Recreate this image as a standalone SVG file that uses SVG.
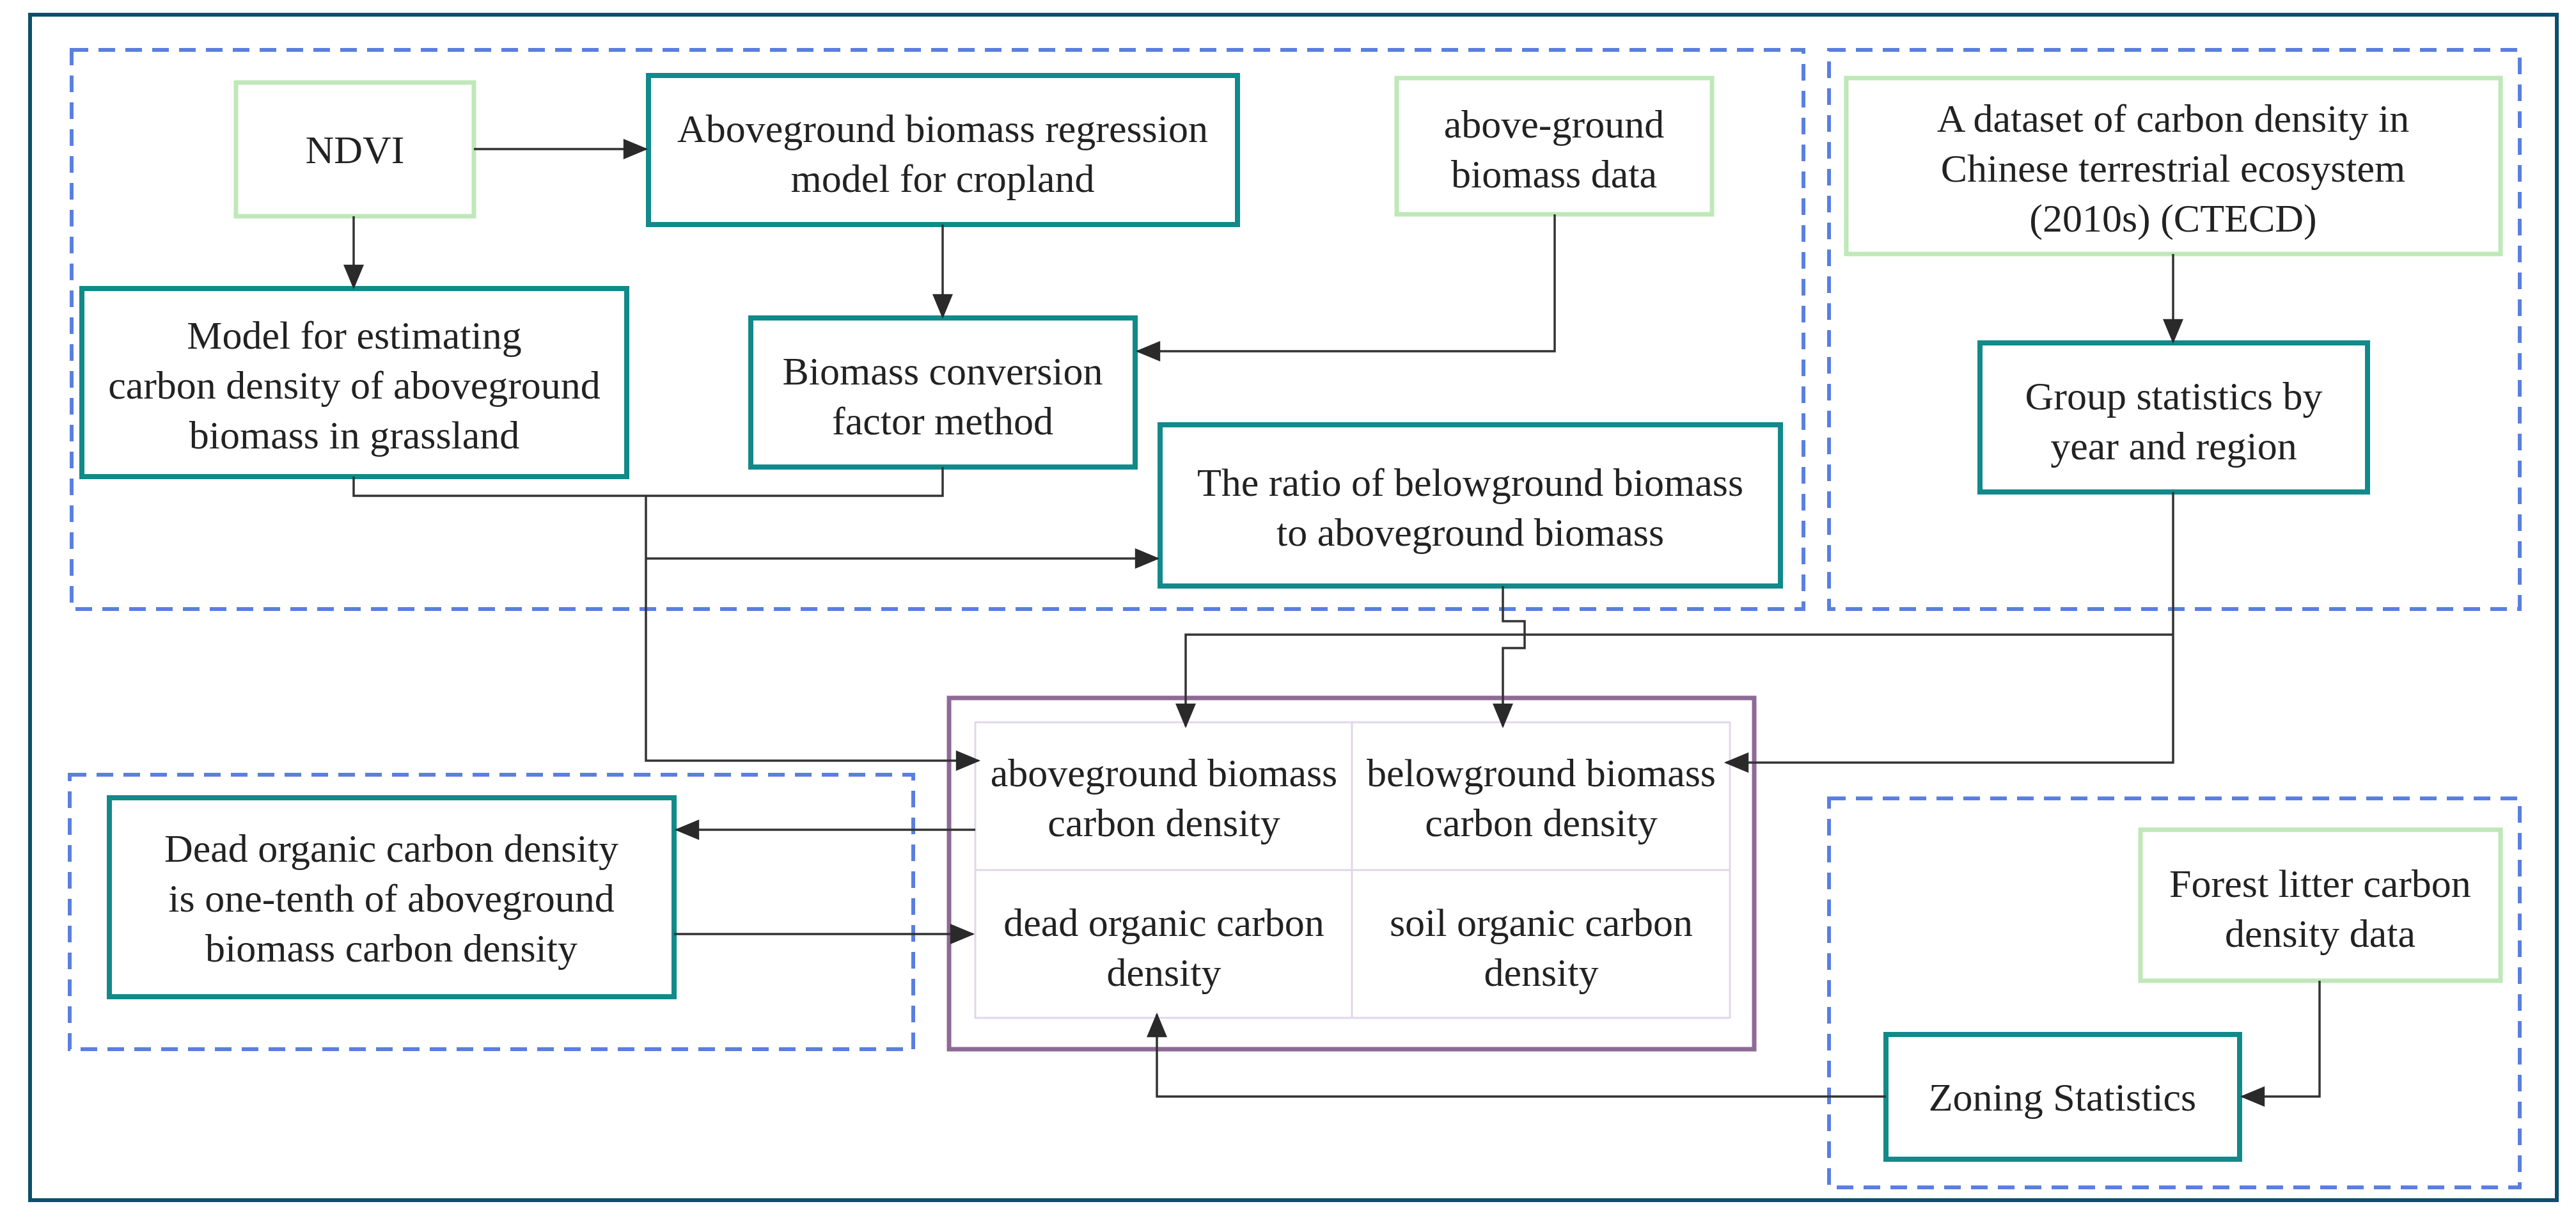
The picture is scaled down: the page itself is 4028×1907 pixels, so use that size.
<svg xmlns="http://www.w3.org/2000/svg" width="4028" height="1907" viewBox="0 0 4028 1907">
<style>
text{font-family:"Liberation Serif","Times New Roman",serif;font-size:62px;fill:#222;text-anchor:middle}
.t{fill:#fff;stroke:#12898a;stroke-width:8}
.g{fill:#fff;stroke:#bfe8b8;stroke-width:7}
.d{fill:none;stroke:#5a7fe0;stroke-width:6;stroke-dasharray:26 16}
.c{fill:none;stroke:#333;stroke-width:3.5}
</style>
<defs>
<marker id="b" viewBox="0 0 12 10" refX="11" refY="5" markerWidth="40" markerHeight="32" orient="auto" markerUnits="userSpaceOnUse"><path d="M0,0L12,5L0,10z" fill="#2a2a2a"/></marker></defs>
<rect width="4028" height="1907" fill="#fff"/>
<rect x="47" y="23" width="3951" height="1853" fill="none" stroke="#0b4f6c" stroke-width="6"/>
<g id="groups">
<rect class="d" x="112" y="78" width="2708" height="874"/>
<rect class="d" x="2860" y="78" width="1080" height="874"/>
<rect class="d" x="109" y="1211" width="1319" height="429"/>
<rect class="d" x="2860" y="1248" width="1080" height="608"/>
</g>
<g id="ndvi"><rect class="g" x="369" y="129" width="372" height="209"/><text x="555" y="255">NDVI</text></g>
<g id="regression"><rect class="t" x="1014" y="118" width="921" height="233"/><text x="1474" y="222">Aboveground biomass regression</text><text x="1474" y="300">model for cropland</text></g>
<g id="grassland"><rect class="t" x="128" y="451" width="852" height="294"/><text x="554" y="545">Model for estimating</text><text x="554" y="623">carbon density of aboveground</text><text x="554" y="701">biomass in grassland</text></g>
<g id="conversion"><rect class="t" x="1174" y="497" width="601" height="233"/><text x="1474" y="601">Biomass conversion</text><text x="1474" y="679">factor method</text></g>
<g id="agbdata"><rect class="g" x="2184" y="122" width="493" height="213"/><text x="2430" y="215">above-ground</text><text x="2430" y="293">biomass data</text></g>
<g id="ratio"><rect class="t" x="1814" y="664" width="970" height="252"/><text x="2299" y="775">The ratio of belowground biomass</text><text x="2299" y="853">to aboveground biomass</text></g>
<g id="ctecd"><rect class="g" x="2887" y="122" width="1023" height="275"/><text x="3398" y="206">A dataset of carbon density in</text><text x="3398" y="284">Chinese terrestrial ecosystem</text><text x="3398" y="362">(2010s) (CTECD)</text></g>
<g id="groupstats"><rect class="t" x="3096" y="536" width="606" height="233"/><text x="3399" y="640">Group statistics by</text><text x="3399" y="718">year and region</text></g>
<g id="carbonpools">
<rect x="1484" y="1091" width="1259" height="549" fill="#fff" stroke="#8e6a97" stroke-width="7"/>
<rect x="1525" y="1129" width="1180" height="462" fill="none" stroke="#e2d6ea" stroke-width="3"/>
<path d="M2114,1129V1591M1525,1360H2705" stroke="#e2d6ea" stroke-width="3"/>
<text x="1820" y="1229">aboveground biomass</text><text x="1820" y="1307">carbon density</text>
<text x="2410" y="1229">belowground biomass</text><text x="2410" y="1307">carbon density</text>
<text x="1820" y="1463">dead organic carbon</text><text x="1820" y="1541">density</text>
<text x="2410" y="1463">soil organic carbon</text><text x="2410" y="1541">density</text>
</g>
<g id="deadorganic"><rect class="t" x="171" y="1247" width="883" height="311"/><text x="612" y="1347">Dead organic carbon density</text><text x="612" y="1425">is one-tenth of aboveground</text><text x="612" y="1503">biomass carbon density</text></g>
<g id="forestlitter"><rect class="g" x="3347" y="1297" width="563" height="236"/><text x="3628" y="1402">Forest litter carbon</text><text x="3628" y="1480">density data</text></g>
<g id="zoning"><rect class="t" x="2949" y="1617" width="553" height="195"/><text x="3225" y="1736">Zoning Statistics</text></g>
<g id="connectors">
<path class="c" d="M741,233H1010" marker-end="url(#b)"/>
<path class="c" d="M553,338V449" marker-end="url(#b)"/>
<path class="c" d="M1474,351V495" marker-end="url(#b)"/>
<path class="c" d="M3398,397V534" marker-end="url(#b)"/>
<path class="c" d="M2431,335V549H1779" marker-end="url(#b)"/>
<path class="c" d="M553,745V775H1474V730"/>
<path class="c" d="M1010,775V1189H1530" marker-end="url(#b)"/>
<path class="c" d="M1010,873H1810" marker-end="url(#b)"/>
<path class="c" d="M2350,916V971H2384V1013H2350V1135" marker-end="url(#b)"/>
<path class="c" d="M3398,769V1192H2699" marker-end="url(#b)"/>
<path class="c" d="M3398,992H1854V1135" marker-end="url(#b)"/>
<path class="c" d="M1525,1297H1058" marker-end="url(#b)"/>
<path class="c" d="M1054,1460H1521" marker-end="url(#b)"/>
<path class="c" d="M3627,1533V1714H3506" marker-end="url(#b)"/>
<path class="c" d="M2949,1714H1809V1586" marker-end="url(#b)"/>
</g>
</svg>
